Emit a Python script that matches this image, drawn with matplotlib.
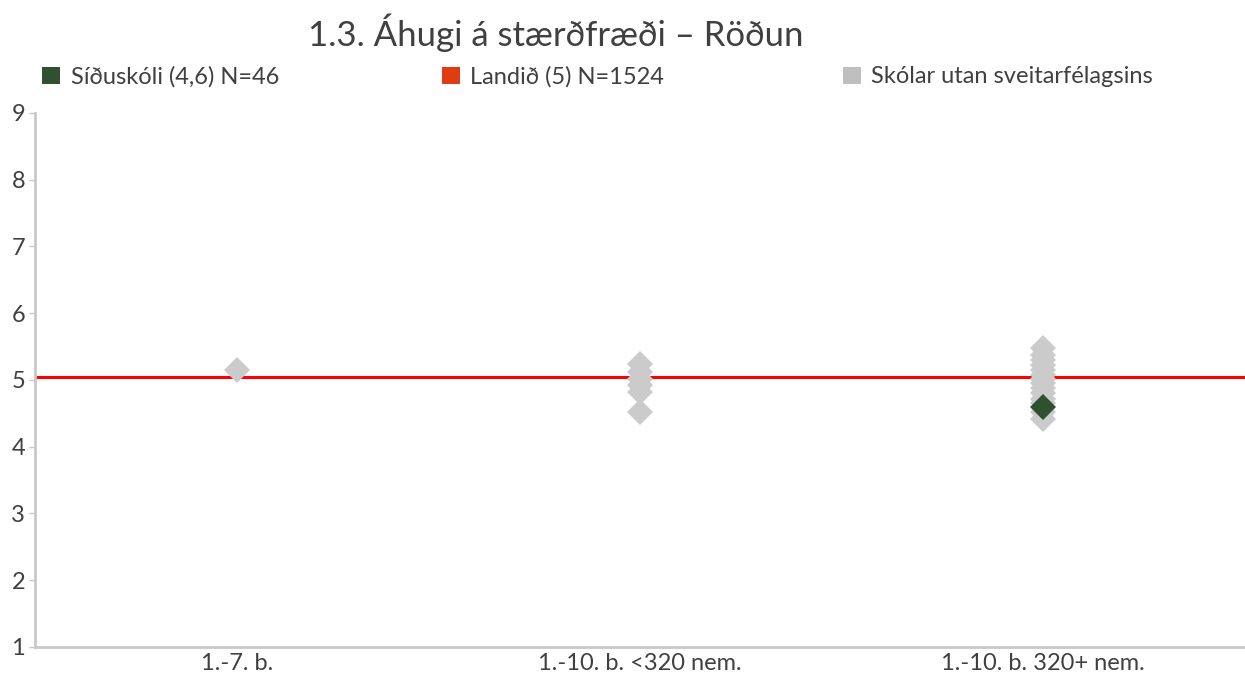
"""Scatter of school rankings: Áhugi á stærðfræði – Röðun."""

import matplotlib
matplotlib.use("Agg")
import matplotlib.pyplot as plt
from matplotlib.patches import Patch

plt.rcParams["font.family"] = ["Lato", "DejaVu Sans"]

# ── Data ──
categories = ["1.-7. b.", "1.-10. b. <320 nem.", "1.-10. b. 320+ nem."]
other_schools = [
    [5.15],
    [5.24, 5.12, 5.02, 4.92, 4.82, 4.52],
    [5.48, 5.38, 5.30, 5.22, 5.15, 5.08, 5.02, 4.95, 4.88, 4.80, 4.72, 4.65, 4.52, 4.42],
]
school_cat = 2
school_value = 4.6
national_value = 5.04

school_label = "Síðuskóli (4,6) N=46"
national_label = "Landið (5) N=1524"
other_label = "Skólar utan sveitarfélagsins"

GREY = "#CBCBCB"
GREEN = "#2F5132"
RED = "#FF0000"
SPINE = "#C8C8C8"
TEXT = "#404040"

fig = plt.figure(figsize=(12.45, 6.75), dpi=100)
ax = fig.add_axes([0.0281, 0.0415, 0.9719, 0.7911])

ax.axhline(national_value, color=RED, linewidth=2.2, zorder=1)
for i, vals in enumerate(other_schools):
    ax.plot([i] * len(vals), vals, linestyle="none", marker="D", ms=13,
            color=GREY, markeredgewidth=0, zorder=2)
ax.plot([school_cat], [school_value], linestyle="none", marker="D", ms=13,
        color=GREEN, markeredgewidth=0, zorder=3)

ax.set_xlim(-0.5, 2.5)
ax.set_ylim(1, 9)
ax.set_yticks(range(1, 10))
ax.set_xticks(range(len(categories)))
ax.set_xticklabels(categories)
ax.tick_params(axis="y", length=4, width=1, color=SPINE, labelsize=17, labelcolor=TEXT, pad=3)
ax.tick_params(axis="x", length=0, labelsize=17, labelcolor=TEXT, pad=4)
for s in ["top", "right"]:
    ax.spines[s].set_visible(False)
for s in ["left", "bottom"]:
    ax.spines[s].set_color(SPINE)
    ax.spines[s].set_linewidth(2)

fig.text(0.446, 0.952, "1.3. Áhugi á stærðfræði – Röðun", ha="center", va="center",
         fontsize=25, color=TEXT)

# ── Legend, three evenly spaced entries ──
entries = [(school_label, GREEN, 0.034), (national_label, "#E03C14", 0.355), (other_label, "#BFBFBF", 0.677)]
for label, col, x in entries:
    fig.legend(handles=[Patch(facecolor=col, edgecolor="none", label=label)],
               loc="center left", bbox_to_anchor=(x, 0.886), frameon=False,
               fontsize=17, handlelength=0.75, handleheight=0.75, handletextpad=0.45,
               labelcolor=TEXT, borderaxespad=0, borderpad=0)

fig.savefig("out.png", dpi=100)
